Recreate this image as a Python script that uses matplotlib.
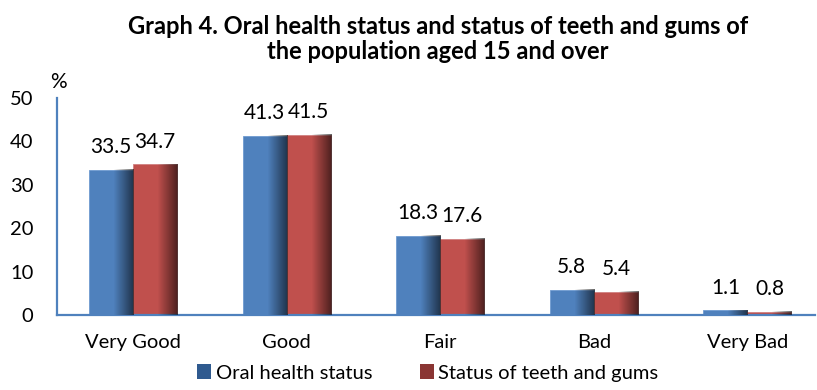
import numpy as np
import matplotlib as mpl
import matplotlib.pyplot as plt
from matplotlib.patches import Patch

mpl.use('Agg')
plt.rcParams['font.family'] = ['Lato', 'DejaVu Sans']

categories = ["Very Good", "Good", "Fair", "Bad", "Very Bad"]
oral_health = [33.5, 41.3, 18.3, 5.8, 1.1]
teeth_gums = [34.7, 41.5, 17.6, 5.4, 0.8]
series_names = ["Oral health status", "Status of teeth and gums"]

blue = "#4F81BD"
red = "#C0504D"


def shade_bars(ax, bars):
    # darker band on the right side of every bar, like the office 3d style
    ramp = np.linspace(0, 1, 64)
    alpha = np.clip((ramp - 0.55) / 0.45, 0, 1) * 0.6
    img = np.zeros((1, 64, 4))
    img[0, :, 3] = alpha
    for b in bars:
        x0, y0 = b.get_x(), b.get_y()
        w, h = b.get_width(), b.get_height()
        ax.imshow(img, extent=[x0, x0 + w, y0, y0 + h], aspect='auto',
                  interpolation='bilinear', zorder=3)


fig = plt.figure(figsize=(8.17, 3.9), dpi=100)
ax = fig.add_axes([57 / 817, 1 - 315 / 390, (815 - 57) / 817, (315 - 98) / 390])

x = np.arange(len(categories))
w = 0.287
b1 = ax.bar(x - w / 2, oral_health, w, color=blue, edgecolor="#6f9bd0", linewidth=0.6, zorder=2)
b2 = ax.bar(x + w / 2, teeth_gums, w, color=red, edgecolor="#d08080", linewidth=0.6, zorder=2)
shade_bars(ax, b1)
shade_bars(ax, b2)

for bars, vals in ((b1, oral_health), (b2, teeth_gums)):
    for b, v in zip(bars, vals):
        ax.annotate(f"{v}", (b.get_x() + b.get_width() / 2, v), xytext=(0, 9),
                    textcoords='offset points', ha='center', va='bottom', fontsize=15)

ax.set_xlim(-0.495, 4.44)
ax.set_ylim(0, 50)
ax.set_yticks(range(0, 51, 10))
ax.set_xticks(x)
ax.set_xticklabels(categories)
ax.tick_params(length=0, labelsize=14.5)
ax.tick_params(axis='x', pad=14)
ax.tick_params(axis='y', pad=17)
for s in ['top', 'right']:
    ax.spines[s].set_visible(False)
for s in ['left', 'bottom']:
    ax.spines[s].set_color("#4F81BD")
    ax.spines[s].set_linewidth(1.6)

fig.text(58 / 817, 1 - 82 / 390, "%", fontsize=15, ha='center', va='center')
fig.text(438 / 817, 1 - 39 / 390,
         "Graph 4. Oral health status and status of teeth and gums of\nthe population aged 15 and over",
         ha='center', va='center', fontsize=17, fontweight='bold', linespacing=1.15)

handles = [Patch(facecolor="#2f5a8f", label=series_names[0]),
           Patch(facecolor="#8a3533", label=series_names[1])]
fig.legend(handles=handles, loc='center', bbox_to_anchor=(428 / 817, 1 - 373 / 390),
           ncol=2, frameon=False, fontsize=14.5, handlelength=0.7, handleheight=0.7,
           handletextpad=0.2, columnspacing=2.4, borderpad=0)

fig.savefig('out.png', dpi=100)
